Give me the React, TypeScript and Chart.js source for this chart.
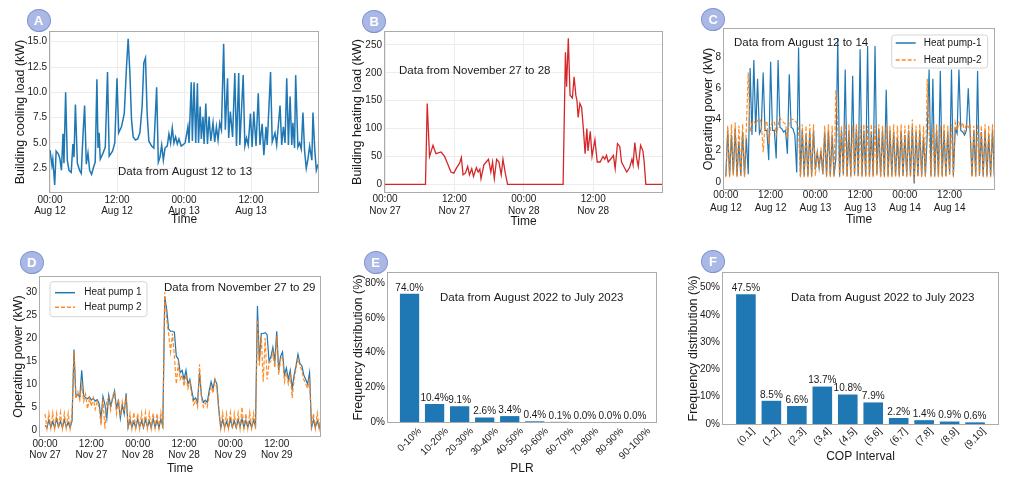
import { useEffect, useRef } from "react";
import { Chart, registerables } from "chart.js";

Chart.register(...registerables);

const FONT = "'Liberation Sans', Arial, Helvetica, sans-serif";
const INK = "#1a1a1a";
const GRID = "#ececec";
const BLUE = "#1f77b4";
const ORANGE = "rgba(255,127,14,0.9)";
const RED = "#d62728";
const STEP_H = 0.5; // heat pump logs (C, D) are read at half-hour steps

// A - building cooling load, Aug 12-13 (hours from 00:00 Aug 12, kW)
const coolHours = [
  0, 0.35, 0.5, 0.84, 1.1, 1.5, 1.75, 2.05, 2.33, 2.5, 2.8, 3.1, 3.4, 3.8, 4.1, 4.3, 4.55, 4.9, 5.3, 5.6,
  5.9, 6.2, 6.5, 6.8, 7.1, 7.45, 7.8, 8.1, 8.4, 8.6, 8.8, 9.0, 9.5, 9.9, 10.3, 10.6, 11.2, 11.6, 12.0, 12.3,
  12.8, 13.3, 13.7, 14.0, 14.3, 14.6, 14.9, 15.3, 15.7, 16.1, 16.5, 16.8, 17.1, 17.4, 17.7, 18.2, 18.6, 19.1, 19.4, 19.7,
  20.0, 20.3, 20.6, 21.0, 21.3, 21.6, 21.9, 22.2, 22.5, 22.8, 23.1, 23.5, 23.8, 24.2, 24.7, 24.9, 25.3, 25.5, 25.8, 26.1,
  26.4, 26.6, 26.9, 27.1, 27.4, 27.6, 27.9, 28.2, 28.5, 28.8, 29.2, 29.5, 29.8, 30.1, 30.4, 30.7, 31.1, 31.4, 31.8, 32.0,
  32.3, 32.7, 33.1, 33.4, 33.8, 34.0, 34.6, 34.9, 35.2, 35.5, 35.9, 36.2, 36.5, 36.9, 37.3, 37.6, 38.0, 38.3, 38.7, 38.9,
  39.5, 39.8, 40.3, 40.6, 41.2, 41.5, 41.8, 42.1, 42.4, 42.7, 43.0, 43.3, 43.5, 43.8, 44.0, 44.4, 44.7, 45.0, 45.3, 45.6,
  45.9, 46.2, 46.5, 46.9, 47.1, 47.4, 47.7, 48.0,
];
const coolLoad = [
  4.3, 2.8, 3.4, 0.85, 4.2, 3.9, 3.5, 2.3, 5.9, 3.0, 10.0, 3.3, 2.3, 2.1, 4.9, 3.6, 8.8, 3.0, 2.3, 2.0,
  5.7, 8.7, 2.9, 4.0, 2.3, 1.9, 2.6, 3.1, 11.3, 4.5, 6.0, 3.4, 4.0, 4.6, 12.0, 3.7, 4.2, 5.0, 11.4, 6.0,
  6.6, 7.9, 12.5, 15.3, 12.0, 7.3, 5.6, 5.3, 5.4, 6.0, 8.6, 12.9, 13.4, 7.9, 5.2, 4.7, 4.5, 10.5, 3.1, 3.6,
  4.8, 3.3, 4.5, 4.7, 5.9, 5.0, 6.5, 5.0, 5.6, 4.9, 5.4, 4.7, 4.8, 5.0, 6.6, 5.0, 11.0, 5.2, 11.0, 5.0,
  10.9, 5.0, 8.6, 5.4, 7.6, 4.9, 8.9, 4.9, 7.6, 5.2, 7.0, 5.1, 6.6, 5.3, 7.0, 6.3, 14.8, 6.3, 11.4, 5.5,
  8.1, 5.6, 11.9, 4.7, 11.9, 4.8, 11.7, 4.7, 5.5, 4.8, 7.9, 4.6, 8.1, 4.7, 9.9, 4.8, 6.9, 3.8, 6.6, 4.8,
  12.0, 5.1, 6.0, 4.8, 8.7, 4.8, 6.6, 5.0, 11.4, 4.8, 9.6, 4.8, 7.0, 4.5, 11.7, 4.6, 5.0, 4.4, 8.0, 4.2,
  2.5, 3.4, 4.7, 3.3, 8.0, 4.5, 2.3, 2.9,
];
const coolTicks = [0, 12, 24, 36];
const coolTickLabels = [["00:00", "Aug 12"], ["12:00", "Aug 12"], ["00:00", "Aug 13"], ["12:00", "Aug 13"]];
const coolYTicks = [2.5, 5, 7.5, 10, 12.5, 15];

// B - building heating load, Nov 27-28 (hours from 00:00 Nov 27, kW)
const heatHours = [
  0, 7.0, 7.3, 7.7, 8.3, 8.8, 9.7, 10.3, 10.9, 11.4, 11.9, 12.4, 12.9, 13.2, 13.5, 13.9, 14.3, 14.6, 15.0, 15.3,
  15.8, 16.1, 16.4, 16.6, 17.1, 17.5, 17.9, 18.3, 18.6, 18.9, 19.3, 19.7, 20.1, 20.4, 20.8, 21.2, 30.8, 31.2, 31.4, 31.7,
  32.0, 32.4, 32.7, 33.0, 33.2, 33.4, 33.7, 34.0, 34.3, 34.6, 34.9, 35.1, 35.5, 35.8, 36.3, 36.7, 37.2, 37.7, 38.0, 38.3,
  38.6, 39.0, 39.5, 39.8, 40.2, 40.6, 40.9, 41.5, 41.8, 42.3, 42.7, 42.9, 43.2, 43.5, 43.8, 44.2, 44.6, 44.8, 45.1, 47.9,
];
const heatLoad = [
  0, 0, 145, 50, 70, 55, 58, 50, 35, 22, 20, 30, 38, 48, 17, 20, 32, 17, 28, 14,
  30, 22, 27, 10, 35, 40, 45, 22, 40, 10, 45, 40, 17, 45, 20, 0, 0, 237, 175, 262,
  160, 155, 193, 160, 150, 120, 145, 138, 100, 55, 100, 60, 95, 50, 80, 40, 40, 50, 45, 52,
  40, 45, 52, 28, 73, 68, 40, 28, 22, 30, 45, 35, 75, 48, 32, 70, 60, 42, 0, 0,
];
const heatTicks = [0, 12, 24, 36];
const heatTickLabels = [["00:00", "Nov 27"], ["12:00", "Nov 27"], ["00:00", "Nov 28"], ["12:00", "Nov 28"]];
const heatYTicks = [0, 50, 100, 150, 200, 250];

// C - heat pump operating power, Aug 12-14 (kW, every half hour)
const augPump1 = [
  0.4, 3.3, 0.4, 3.0, 0.5, 3.4, 0.4, 2.6, 0.4, 3.2, 0.4, 2.8,
  0.5, 7.3, 3.0, 7.8, 3.2, 6.6, 3.1, 3.4, 7.0, 3.3, 3.3, 1.4,
  7.7, 3.3, 3.3, 1.5, 7.8, 3.5, 3.4, 3.2, 3.3, 1.8, 6.9, 3.5,
  3.4, 3.0, 0.6, 8.6, 0.4, 3.3, 0.4, 3.0, 0.4, 3.2, 0.4, 3.3,
  0.8, 1.9, 0.9, 2.0, 0.5, 3.2, 0.4, 3.3, 0.4, 3.0, 0.4, 1.5,
  9.2, 0.4, 3.3, 0.5, 7.2, 0.4, 3.3, 0.4, 6.8, 0.5, 3.4, 0.4,
  8.5, 0.4, 3.3, 0.4, 8.7, 0.4, 3.2, 0.4, 8.7, 0.5, 3.4, 0.4,
  3.3, 0.4, 5.9, 0.4, 3.3, 0.4, 3.2, 0.4, 2.8, 0.4, 3.3, 0.4,
  3.0, 0.4, 3.3, 0.4, 3.5, -0.1, 3.2, 0.4, 3.3, 0.4, 2.9, 0.4,
  3.0, 7.2, 0.4, 6.6, 0.4, 3.3, 0.4, 7.1, 0.4, 3.3, 0.4, 3.2,
  0.5, 7.2, 0.4, 3.4, 3.1, 7.2, 3.3, 3.2, 3.0, 3.3, 6.0, 3.2,
  0.4, 3.3, 0.4, 7.1, 0.4, 3.2, 0.4, 3.3, 0.4, 3.0, 0.4, 3.3,
  0.3,
];
const augPump2 = [
  0.3, 3.6, 0.3, 3.7, 0.4, 3.8, 0.3, 3.6, 0.3, 3.7, 0.3, 3.6,
  7.0, 3.2, 3.8, 3.9, 3.7, 3.9, 4.1, 3.8, 1.9, 3.7, 3.9, 2.4,
  3.6, 3.8, 3.9, 3.0, 3.6, 4.1, 3.9, 3.8, 3.7, 2.8, 3.9, 4.0,
  4.0, 3.9, 3.8, 3.4, 0.3, 3.7, 0.3, 3.6, 0.3, 3.7, 0.3, 3.7,
  0.4, 2.0, 0.9, 2.2, 0.5, 3.6, 0.3, 3.7, 0.3, 3.6, 0.3, 5.9,
  3.5, 0.3, 3.6, 0.4, 3.7, 0.3, 3.7, 0.3, 3.6, 0.4, 3.7, 0.3,
  3.6, 0.3, 3.7, 0.3, 3.6, 0.3, 3.7, 0.3, 3.6, 0.4, 3.7, 0.3,
  3.6, 0.3, 3.7, 0.3, 3.6, 0.3, 3.7, 0.3, 3.6, 0.3, 3.7, 0.3,
  3.6, 0.3, 3.7, 0.3, 4.0, 0.0, 3.6, 0.3, 3.7, 0.3, 3.6, 0.3,
  6.6, 3.3, 0.3, 3.7, 0.3, 3.7, 0.3, 3.6, 0.3, 3.7, 0.3, 3.6,
  0.4, 3.7, 0.3, 3.8, 3.3, 3.8, 3.5, 3.8, 3.2, 3.7, 3.5, 3.7,
  0.3, 3.6, 0.3, 3.7, 0.4, 3.6, 0.3, 3.7, 0.3, 3.6, 0.3, 3.7,
  0.3,
];
const augTicks = [0, 12, 24, 36, 48, 60];
const augTickLabels = [
  ["00:00", "Aug 12"], ["12:00", "Aug 12"], ["00:00", "Aug 13"],
  ["12:00", "Aug 13"], ["00:00", "Aug 14"], ["12:00", "Aug 14"],
];
const augYTicks = [0, 2, 4, 6, 8];

// D - heat pump operating power, Nov 27-29 (kW, every half hour)
const novPump1 = [
  1.0, 0.5, 2.2, 0.6, 1.8, 0.5, 2.5, 0.7, 1.9, 0.5, 2.3, 0.6,
  1.7, 0.5, 2.0, 17.5, 7.3, 7.8, 7.1, 13.0, 7.5, 7.0, 6.8, 7.2,
  6.5, 6.9, 6.3, 6.6, 5.8, 2.5, 7.3, 5.6, 2.5, 7.6, 5.2, 6.8,
  8.5, 4.8, 6.3, 2.5, 5.5, 3.5, 8.0, 0.5, 2.2, 0.6, 1.8, 0.5,
  2.4, 0.6, 2.0, 0.5, 2.3, 0.7, 1.9, 0.5, 2.5, 0.6, 2.1, 0.5,
  2.4, 0.8, 29.0, 26.3, 22.0, 21.5, 21.5, 21.3, 16.0, 15.5, 12.5, 13.0,
  11.0, 13.0, 10.0, 11.0, 8.5, 6.5, 7.0, 6.0, 12.5, 7.5, 6.0, 6.5,
  6.0, 8.5, 10.5, 9.0, 11.0, 10.0, 4.5, 0.5, 2.2, 0.6, 1.8, 0.5,
  2.4, 0.6, 2.0, 0.5, 2.3, 0.7, 2.5, 0.5, 2.1, 0.6, 1.9, 0.5,
  2.2, 0.8, 27.0, 15.0, 21.0, 21.0, 21.2, 20.8, 15.0, 16.0, 18.0, 15.0,
  21.5, 13.0, 16.0, 17.0, 12.0, 13.5, 11.0, 13.0, 9.0, 12.0, 14.0, 16.5,
  14.5, 14.0, 12.0, 11.0, 10.0, 12.5, 0.5, 2.2, 0.6, 2.0, 0.5, 2.4,
];
const novPump2 = [
  3.5, 0.3, 3.6, 0.4, 3.7, 0.3, 3.6, 0.4, 3.8, 0.3, 3.6, 0.4,
  3.7, 0.3, 3.5, 17.0, 6.8, 8.3, 6.5, 10.0, 6.2, 7.8, 4.6, 6.9,
  5.2, 7.0, 4.5, 6.2, 5.0, 1.0, 6.8, 0.3, 6.5, 7.0, 4.3, 7.5,
  8.2, 3.5, 6.8, 3.0, 6.2, 4.0, 7.5, 0.3, 3.6, 0.3, 3.8, 0.4,
  3.6, 0.3, 3.7, 0.4, 3.8, 0.3, 3.6, 0.3, 3.7, 0.4, 3.6, 0.3,
  3.8, 0.4, 30.0, 24.0, 21.0, 17.0, 21.0, 16.0, 10.0, 14.5, 11.0, 12.0,
  9.5, 12.0, 9.0, 10.5, 7.5, 5.5, 6.5, 5.0, 14.3, 7.0, 5.0, 6.0,
  5.0, 7.5, 9.5, 8.0, 11.0, 9.0, 4.0, 0.3, 3.7, 0.3, 3.6, 0.4,
  3.8, 0.3, 3.6, 0.4, 3.7, 0.3, 5.0, 0.4, 3.6, 0.3, 3.8, 0.4,
  3.6, 0.3, 24.0, 14.0, 20.5, 10.5, 20.0, 11.0, 14.5, 15.0, 17.0, 13.5,
  20.5, 12.0, 15.5, 16.0, 10.5, 12.5, 10.0, 12.0, 7.0, 11.0, 13.5, 15.5,
  14.0, 13.0, 11.0, 10.0, 9.0, 11.5, 0.3, 3.6, 0.3, 3.7, 0.4, 3.6,
];
const novTicks = [0, 12, 24, 36, 48, 60];
const novTickLabels = [
  ["00:00", "Nov 27"], ["12:00", "Nov 27"], ["00:00", "Nov 28"],
  ["12:00", "Nov 28"], ["00:00", "Nov 29"], ["12:00", "Nov 29"],
];
const novYTicks = [0, 5, 10, 15, 20, 25, 30];

// E - part load ratio distribution
const plrBins = ["0-10%", "10-20%", "20-30%", "30-40%", "40-50%", "50-60%", "60-70%", "70-80%", "80-90%", "90-100%"];
const plrShare = [74.0, 10.4, 9.1, 2.6, 3.4, 0.4, 0.1, 0.0, 0.0, 0.0];
const plrYTicks = [0, 20, 40, 60, 80];

// F - COP distribution
const copBins = ["(0,1]", "(1,2]", "(2,3]", "(3,4]", "(4,5]", "(5,6]", "(6,7]", "(7,8]", "(8,9]", "(9,10]"];
const copShare = [47.5, 8.5, 6.6, 13.7, 10.8, 7.9, 2.2, 1.4, 0.9, 0.6];
const copYTicks = [0, 10, 20, 30, 40, 50];

type Rect = { left: number; top: number; width: number; height: number };
type Box = { left: number; top: number; right: number; bottom: number };

const extras = {
  id: "extras",
  afterDraw(chart: any, _args: any, o: any) {
    const { ctx, chartArea: ca } = chart;
    ctx.save();
    ctx.strokeStyle = "#ababab";
    ctx.lineWidth = 1;
    ctx.strokeRect(ca.left - 0.5, ca.top - 0.5, ca.right - ca.left + 1, ca.bottom - ca.top + 1);
    ctx.fillStyle = INK;

    if (o.values) {
      ctx.font = `10px ${FONT}`;
      ctx.textAlign = "center";
      ctx.textBaseline = "bottom";
      chart.getDatasetMeta(0).data.forEach((bar: any, i: number) => {
        ctx.fillText(o.values[i], bar.x, bar.y - 1);
      });
    }

    if (o.rotLabels) {
      const xs = chart.scales.x;
      ctx.font = `10px ${FONT}`;
      o.rotLabels.forEach((lab: string, i: number) => {
        const w = ctx.measureText(lab).width;
        const bh = (w + 10) * Math.SQRT1_2;
        ctx.save();
        ctx.translate(xs.getPixelForValue(i), ca.bottom + o.rotTop + bh / 2);
        ctx.rotate(-Math.PI / 4);
        ctx.textAlign = "center";
        ctx.textBaseline = "middle";
        ctx.fillText(lab, 0, 0);
        ctx.restore();
      });
    }

    if (o.note) {
      ctx.font = `11.5px ${FONT}`;
      ctx.textAlign = "left";
      ctx.textBaseline = "middle";
      ctx.fillText(o.note.text, ca.left + o.note.dx, ca.top + o.note.dy);
    }

    if (o.legend) {
      const L = o.legend;
      const lx = ca.left + L.dx;
      const ly = ca.top + L.dy;
      ctx.fillStyle = "rgba(255,255,255,0.85)";
      ctx.strokeStyle = "#d6d6d6";
      ctx.beginPath();
      ctx.roundRect(lx, ly, L.w, L.h, 3);
      ctx.fill();
      ctx.stroke();
      chart.data.datasets.forEach((ds: any, i: number) => {
        const y = ly + L.rows[i];
        ctx.strokeStyle = ds.borderColor;
        ctx.lineWidth = 1.5;
        ctx.setLineDash(ds.borderDash || []);
        ctx.beginPath();
        ctx.moveTo(lx + L.line[0], y);
        ctx.lineTo(lx + L.line[1], y);
        ctx.stroke();
        ctx.setLineDash([]);
        ctx.fillStyle = INK;
        ctx.font = `10px ${FONT}`;
        ctx.textAlign = "left";
        ctx.textBaseline = "middle";
        ctx.fillText(ds.label, lx + L.textX, y);
      });
    }
    ctx.restore();
  },
};

function frameFor(rect: Rect, box: Box, yTitleX: number, xTitleY: number) {
  return {
    padding: { top: box.top - rect.top, right: rect.left + rect.width - box.right, left: 0, bottom: 0 },
    axisW: box.left - rect.left,
    axisH: rect.top + rect.height - box.bottom,
    yTitlePad: yTitleX - rect.left - 7.5,
    xTitlePad: rect.top + rect.height - xTitleY - 7.2,
  };
}

const yTitle = (text: string, pad: number) => ({
  display: true,
  text,
  color: INK,
  font: { family: FONT, size: 12.5, lineHeight: 1.2 },
  padding: { top: pad, bottom: 0 },
});

const xTitle = (text: string, pad: number) => ({
  display: true,
  text,
  color: INK,
  font: { family: FONT, size: 12, lineHeight: 1.2 },
  padding: { top: 0, bottom: pad },
});

function timeChart(p: any) {
  const f = frameFor(p.rect, p.box, p.yTitleX, p.xTitleY);
  return {
    type: "line",
    data: { datasets: p.datasets },
    options: {
      responsive: false,
      animation: false,
      events: [],
      layout: { padding: f.padding },
      elements: { point: { radius: 0 }, line: { tension: 0 } },
      plugins: {
        legend: { display: false },
        tooltip: { enabled: false },
        extras: { note: p.note, legend: p.legend },
      },
      scales: {
        x: {
          type: "linear",
          min: p.xMin,
          max: p.xMax,
          offset: false,
          afterBuildTicks: (s: any) => {
            s.ticks = p.xTicks.map((value: number) => ({ value }));
          },
          afterFit: (s: any) => {
            s.height = f.axisH;
          },
          ticks: {
            autoSkip: false,
            maxRotation: 0,
            minRotation: 0,
            padding: p.tickPad,
            color: INK,
            font: { family: FONT, size: 10, lineHeight: p.tickLH },
            callback: (_v: any, i: number) => p.xLabels[i],
          },
          grid: { display: p.grid, color: GRID, drawTicks: false },
          border: { display: false },
          title: xTitle("Time", f.xTitlePad),
        },
        y: {
          min: p.yMin,
          max: p.yMax,
          afterBuildTicks: (s: any) => {
            s.ticks = p.yTicks.map((value: number) => ({ value }));
          },
          afterFit: (s: any) => {
            s.width = f.axisW;
          },
          ticks: {
            padding: 3,
            color: INK,
            font: { family: FONT, size: 10 },
            callback: (v: number) => p.yFmt(v),
          },
          grid: { display: p.grid, color: GRID, drawTicks: false },
          border: { display: false },
          title: yTitle(p.yTitle, f.yTitlePad),
        },
      },
    },
    plugins: [extras],
  };
}

function barChart(p: any) {
  const f = frameFor(p.rect, p.box, p.yTitleX, p.xTitleY);
  return {
    type: "bar",
    data: {
      datasets: [
        {
          data: p.values.map((y: number, i: number) => ({ x: i, y })),
          backgroundColor: BLUE,
          borderWidth: 0,
          barPercentage: 0.77,
          categoryPercentage: 1,
        },
      ],
    },
    options: {
      responsive: false,
      animation: false,
      events: [],
      layout: { padding: f.padding },
      plugins: {
        legend: { display: false },
        tooltip: { enabled: false },
        extras: {
          note: p.note,
          values: p.values.map((v: number) => `${v.toFixed(1)}%`),
          rotLabels: p.bins,
          rotTop: p.rotTop,
        },
      },
      scales: {
        x: {
          type: "linear",
          min: p.xMin,
          max: p.xMax,
          offset: false,
          afterFit: (s: any) => {
            s.height = f.axisH;
          },
          ticks: { display: false },
          grid: { display: false, drawTicks: false },
          border: { display: false },
          title: xTitle(p.xTitle, f.xTitlePad),
        },
        y: {
          min: 0,
          max: p.yMax,
          afterBuildTicks: (s: any) => {
            s.ticks = p.yTicks.map((value: number) => ({ value }));
          },
          afterFit: (s: any) => {
            s.width = f.axisW;
          },
          ticks: {
            padding: 3,
            color: INK,
            font: { family: FONT, size: 10 },
            callback: (v: number) => `${v}%`,
          },
          grid: { display: false, drawTicks: false },
          border: { display: false },
          title: yTitle("Frequency distribution (%)", f.yTitlePad),
        },
      },
    },
    plugins: [extras],
  };
}

const pairs = (xs: number[], ys: number[]) => ys.map((y, i) => ({ x: xs[i], y }));
const halfHourly = (ys: number[]) => ys.map((y, i) => ({ x: i * STEP_H, y }));

// pump 2 (dashed) is painted over pump 1, as in the figure
const pumpSets = (p1: number[], p2: number[], l1: string, l2: string) => [
  { label: l1, data: halfHourly(p1), borderColor: BLUE, borderWidth: 1.2, order: 2 },
  { label: l2, data: halfHourly(p2), borderColor: ORANGE, borderWidth: 1.2, borderDash: [4, 2], order: 1 },
];

const panels: { rect: Rect; build: () => any }[] = [
  {
    rect: { left: 0, top: 0, width: 335, height: 241 },
    build: () =>
      timeChart({
        rect: { left: 0, top: 0, width: 335, height: 241 },
        box: { left: 50, top: 32, right: 318, bottom: 192 },
        yTitleX: 21, xTitleY: 220, tickPad: 2.5, tickLH: 1.1, grid: true,
        xMin: 0, xMax: 48, xTicks: coolTicks, xLabels: coolTickLabels,
        yMin: 0.16, yMax: 15.96, yTicks: coolYTicks, yFmt: (v: number) => v.toFixed(1),
        yTitle: "Building cooling load (kW)",
        note: { text: "Data from August 12 to 13", dx: 68, dy: 139.7 },
        datasets: [{ data: pairs(coolHours, coolLoad), borderColor: BLUE, borderWidth: 1.5 }],
      }),
  },
  {
    rect: { left: 335, top: 0, width: 340, height: 241 },
    build: () =>
      timeChart({
        rect: { left: 335, top: 0, width: 340, height: 241 },
        box: { left: 385, top: 32, right: 662, bottom: 192 },
        yTitleX: 358, xTitleY: 221.7, tickPad: 1.5, tickLH: 1.17, grid: true,
        xMin: 0, xMax: 47.9, xTicks: heatTicks, xLabels: heatTickLabels,
        yMin: -13.8, yMax: 273.3, yTicks: heatYTicks, yFmt: (v: number) => `${v}`,
        yTitle: "Building heating load (kW)",
        note: { text: "Data from November 27 to 28", dx: 14, dy: 38.7 },
        datasets: [{ data: pairs(heatHours, heatLoad), borderColor: RED, borderWidth: 1.3 }],
      }),
  },
  {
    rect: { left: 675, top: 0, width: 340, height: 241 },
    build: () =>
      timeChart({
        rect: { left: 675, top: 0, width: 340, height: 241 },
        box: { left: 724, top: 29, right: 994, bottom: 189 },
        yTitleX: 709, xTitleY: 220, tickPad: 0, tickLH: 1.3, grid: false,
        xMin: -0.5, xMax: 71.9, xTicks: augTicks, xLabels: augTickLabels,
        yMin: -0.45, yMax: 9.79, yTicks: augYTicks, yFmt: (v: number) => `${v}`,
        yTitle: "Operating power (kW)",
        note: { text: "Data from August 12 to 14", dx: 10, dy: 14.3 },
        legend: { dx: 167.7, dy: 6, w: 96, h: 33, rows: [8, 25], line: [4, 24], textX: 32 },
        datasets: pumpSets(augPump1, augPump2, "Heat pump-1", "Heat pump-2"),
      }),
  },
  {
    rect: { left: 0, top: 241, width: 335, height: 241 },
    build: () =>
      timeChart({
        rect: { left: 0, top: 241, width: 335, height: 241 },
        box: { left: 40, top: 277, right: 320, bottom: 436 },
        yTitleX: 19, xTitleY: 468.3, tickPad: 2.5, tickLH: 1.1, grid: false,
        xMin: -1.3, xMax: 71.2, xTicks: novTicks, xLabels: novTickLabels,
        yMin: -1.3, yMax: 33.3, yTicks: novYTicks, yFmt: (v: number) => `${v}`,
        yTitle: "Operating power (kW)",
        note: { text: "Data from November 27 to 29", dx: 124, dy: 10.7 },
        legend: { dx: 10, dy: 4.7, w: 97, h: 35, rows: [11, 25.6], line: [5, 25], textX: 34.3 },
        datasets: pumpSets(novPump1, novPump2, "Heat pump 1", "Heat pump 2"),
      }),
  },
  {
    rect: { left: 335, top: 241, width: 340, height: 241 },
    build: () =>
      barChart({
        rect: { left: 335, top: 241, width: 340, height: 241 },
        box: { left: 388, top: 273, right: 656, bottom: 422 },
        yTitleX: 358.3, xTitleY: 468.3, rotTop: 4,
        xMin: -0.86, xMax: 9.84, yMax: 86, yTicks: plrYTicks,
        values: plrShare, bins: plrBins, xTitle: "PLR",
        note: { text: "Data from August 2022 to July 2023", dx: 52, dy: 24.7 },
      }),
  },
  {
    rect: { left: 675, top: 241, width: 340, height: 241 },
    build: () =>
      barChart({
        rect: { left: 675, top: 241, width: 340, height: 241 },
        box: { left: 723, top: 273, right: 998, bottom: 424 },
        yTitleX: 694, xTitleY: 456.7, rotTop: 2,
        xMin: -0.9, xMax: 9.9, yMax: 55.3, yTicks: copYTicks,
        values: copShare, bins: copBins, xTitle: "COP Interval",
        note: { text: "Data from August 2022 to July 2023", dx: 68, dy: 24.7 },
      }),
  },
];

const badges = [
  { letter: "A", x: 38.5, y: 20.3 },
  { letter: "B", x: 374.2, y: 21.5 },
  { letter: "C", x: 713.3, y: 19 },
  { letter: "D", x: 31.7, y: 262.5 },
  { letter: "E", x: 375.5, y: 262.2 },
  { letter: "F", x: 713, y: 261.7 },
];

function ChartPanel({ rect, build }: { rect: Rect; build: () => any }) {
  const canvasRef = useRef<HTMLCanvasElement | null>(null);

  useEffect(() => {
    if (!canvasRef.current) return;
    const chart = new Chart(canvasRef.current, build());
    return () => {
      chart.destroy();
    };
  }, []);

  return (
    <canvas
      ref={canvasRef}
      width={rect.width}
      height={rect.height}
      style={{ position: "absolute", left: rect.left, top: rect.top, width: rect.width, height: rect.height }}
    />
  );
}

const App = () => {
  return (
    <div style={{ position: "absolute", left: 0, top: 0, width: 1015, height: 482, background: "#fff", overflow: "hidden" }}>
      {panels.map((p, i) => (
        <ChartPanel key={i} rect={p.rect} build={p.build} />
      ))}
      {badges.map((b) => (
        <div
          key={b.letter}
          style={{
            position: "absolute",
            left: b.x - 12,
            top: b.y - 11.5,
            width: 24,
            height: 23,
            boxSizing: "border-box",
            borderRadius: "50%",
            background: "#aab8e6",
            border: "1px solid #8293d2",
            color: "#fff",
            font: `bold 13px ${FONT}`,
            display: "flex",
            alignItems: "center",
            justifyContent: "center",
          }}
        >
          {b.letter}
        </div>
      ))}
    </div>
  );
};

export default App;
